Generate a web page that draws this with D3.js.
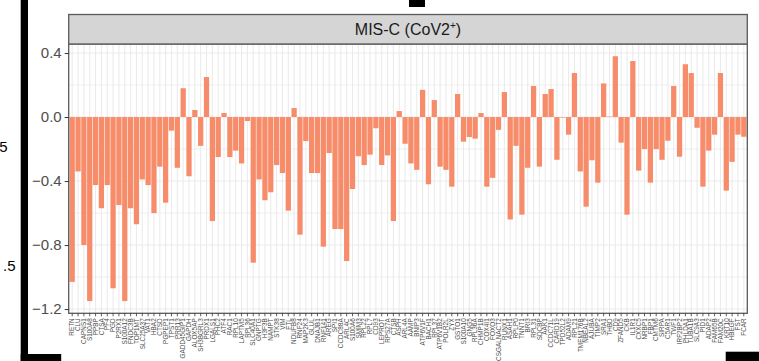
<!DOCTYPE html>
<html>
<head>
<meta charset="utf-8">
<script src="https://cdn.jsdelivr.net/npm/d3@7"></script>
<style>
  html, body { margin: 0; padding: 0; background: #fff; }
  svg { display: block; font-family: "Liberation Sans", Arial, Helvetica, sans-serif; }
</style>
</head>
<body>
<svg id="chart" width="759" height="361"></svg>
<script>
// Genes in plotted order
const genes = [
  "RETN","CLU","CAPNS1","S100A8","PPBP","CTSA","PF4","PGD","P2RX1","S100A12",
  "FNDC3B","TOP1MT","SLC25A37","VAT1","HBA2","CTSD","PGPEP1","TPST1","PRR13","GADD45GIP1",
  "GAPDH","ALOX5AP","SH3BGRL3","PRDX1","LGALS1","PHC2","ATF4","RAC1","RPL10","LAPTM5",
  "RPL36","SLC40A1","GNPTG","H3F3B","NAMPT","STK38","VIM","FTL","NDUFB8","RNF24",
  "MAP2K3","GLUL","DNAJB1","RNF141","AREG","SPI1","CCDC88A","ARL4C","S100A6","SMIM3",
  "RPL22","RPL7","CD93","LEPROT","RPS27A","CTSB","ASPH","ARL4A","AAMP","BNIP3",
  "ATP6V1F","BACH1","RPL37","ATP6V1B2","POLR2L","ZYX","GSTO1","S100A10","GNG5","RPL36A",
  "CHMP1B","COX4I1","FOXO3","CSGALNACT2","RUNX1","ASAH1","RPLP0","TNNT1","BRI3","RPL31",
  "SDCBP","AAK1","CCDC71L","CARD19","TPD52L2","ADAM9","RPL21","TMEM176B","NBEAL2","AJUBA",
  "TIMP2","SRA1","THBD","CD9","ZFAND5","CKB","IL1R1","CXXC5","NRBP1","FBP1",
  "CMTM6","SIRPA","C5AR1","TWF1","IRF2BP2","PHLDA1","TUBA1B","SLC9A3","PID1","ADAP2",
  "FAM65B","FAM20C","KRT10","HBEGF","FST","FCAR"
];

// Effect per gene, MIS-C (CoV2+)
const effect = [
  -1.03,-0.34,-0.80,-1.15,-0.425,-0.57,-0.425,-1.07,-0.55,-1.15,
  -0.57,-0.67,-0.39,-0.425,-0.60,-0.31,-0.535,-0.085,-0.317,0.18,
  -0.37,0.044,-0.18,0.25,-0.65,-0.25,0.025,-0.25,-0.21,-0.29,
  -0.025,-0.91,-0.39,-0.52,-0.47,-0.30,-0.35,-0.585,0.056,-0.735,
  -0.15,-0.35,-0.35,-0.81,-0.225,-0.70,-0.70,-0.90,-0.45,-0.245,
  -0.30,-0.235,-0.07,-0.30,-0.24,-0.65,0.0375,-0.167,-0.29,-0.33,
  0.17,-0.42,0.106,-0.31,-0.33,-0.435,0.144,-0.154,-0.125,-0.135,
  0.025,-0.435,-0.38,-0.08,0.156,-0.64,-0.18,-0.61,-0.317,0.194,
  -0.31,0.144,0.175,-0.267,-0.004,-0.11,0.275,-0.34,-0.56,-0.27,
  -0.41,0.21,0.003,0.38,-0.16,-0.61,0.35,-0.335,-0.20,-0.41,
  -0.20,-0.267,-0.148,0.194,-0.248,0.33,0.275,-0.067,-0.435,-0.21,
  -0.11,0.275,-0.46,-0.28,-0.11,-0.123
];

const yTicks = [-1.2, -0.8, -0.4, 0.0, 0.4];
const yMinor = [-1.0, -0.6, -0.2, 0.2];
const panelTitle = "MIS-C (CoV2";
// trailing parts of labels belonging to the neighbouring panel on the left
const edgeLabels = ["5", ".5"];

const svg = d3.select("#chart");
const W = 759, H = 361;
const panel = { left: 68.7, right: 747.3, top: 44, bottom: 313.3 };
const strip = { top: 14.5 };

svg.append("rect").attr("width", W).attr("height", H).attr("fill", "#fff");

// scales: continuous y expanded 5% beyond the data range, discrete x with band padding
const lo = d3.min(effect), hi = d3.max(effect);
const pad = (hi - lo) * 0.05;
const y = d3.scaleLinear().domain([lo - pad, hi + pad]).range([panel.bottom, panel.top]);
const x = d3.scaleBand().domain(genes).range([panel.left, panel.right])
  .paddingInner(0.1).paddingOuter(0.15);

const pw = panel.right - panel.left;
const grid = svg.append("g");
// minor horizontal grid
grid.selectAll("line.minor").data(yMinor).join("line")
  .attr("x1", panel.left).attr("x2", panel.right)
  .attr("y1", d => y(d)).attr("y2", d => y(d))
  .attr("stroke", "#ebebeb").attr("stroke-width", 0.8);
// major horizontal grid
grid.selectAll("line.major").data(yTicks).join("line")
  .attr("x1", panel.left).attr("x2", panel.right)
  .attr("y1", d => y(d)).attr("y2", d => y(d))
  .attr("stroke", "#ebebeb").attr("stroke-width", 1.1);
// vertical grid, one per gene
grid.selectAll("line.v").data(genes).join("line")
  .attr("x1", d => x(d) + x.bandwidth() / 2).attr("x2", d => x(d) + x.bandwidth() / 2)
  .attr("y1", panel.top).attr("y2", panel.bottom)
  .attr("stroke", "#ebebeb").attr("stroke-width", 1.1);

// bars
svg.append("g").selectAll("rect").data(genes).join("rect")
  .attr("x", d => x(d))
  .attr("width", x.bandwidth())
  .attr("y", (d, i) => y(Math.max(0, effect[i])))
  .attr("height", (d, i) => Math.abs(y(effect[i]) - y(0)))
  .attr("fill", "#F68C6A");

// panel border
svg.append("rect")
  .attr("x", panel.left).attr("y", panel.top)
  .attr("width", pw).attr("height", panel.bottom - panel.top)
  .attr("fill", "none").attr("stroke", "#5a5a5a").attr("stroke-width", 1.3);

// facet strip
svg.append("rect")
  .attr("x", panel.left).attr("y", strip.top)
  .attr("width", pw).attr("height", panel.top - strip.top)
  .attr("fill", "#d4d5d4").attr("stroke", "#5a5a5a").attr("stroke-width", 1.3);
const st = svg.append("text")
  .attr("x", (panel.left + panel.right) / 2)
  .attr("y", (strip.top + panel.top) / 2)
  .attr("dy", "0.36em")
  .attr("text-anchor", "middle")
  .attr("font-size", 16).attr("fill", "#1a1a1a");
st.append("tspan").text(panelTitle);
st.append("tspan").attr("font-size", 10).attr("dy", "-0.6em").text("+");
st.append("tspan").attr("dy", "0.38em").text(")");

// y axis
const fmt = d => (d < 0 ? "\u2212" : "") + Math.abs(d).toFixed(1);
const yAxis = svg.append("g")
  .attr("transform", `translate(${panel.left},0)`)
  .call(d3.axisLeft(y).tickValues(yTicks).tickFormat(fmt).tickSize(4).tickPadding(3));
yAxis.select(".domain").remove();
yAxis.selectAll(".tick line").attr("stroke", "#333").attr("stroke-width", 1);
yAxis.selectAll(".tick text")
  .attr("font-size", 15).attr("fill", "#4d4d4d")
  .attr("font-family", "'Liberation Sans', Arial, sans-serif");

// x axis
const xAxis = svg.append("g")
  .attr("transform", `translate(0,${panel.bottom})`)
  .call(d3.axisBottom(x).tickSize(3).tickPadding(2));
xAxis.select(".domain").remove();
xAxis.selectAll(".tick line").attr("stroke", "#333").attr("stroke-width", 0.8);
xAxis.selectAll(".tick text")
  .attr("font-size", 6.4).attr("fill", "#4d4d4d")
  .attr("font-family", "'Liberation Sans', Arial, sans-serif")
  .attr("text-anchor", "end")
  .attr("transform", "rotate(-90)")
  .attr("x", -5).attr("y", 0).attr("dy", "0.35em");

// neighbouring layout pieces at the edges
const edge = svg.append("g").attr("fill", "#000");
edge.append("rect").attr("x", 20.7).attr("y", 0).attr("width", 7.3).attr("height", H);
edge.append("rect").attr("x", 20.7).attr("y", 354).attr("width", 40.5).attr("height", 7);
edge.append("rect").attr("x", 409).attr("y", 0).attr("width", 16).attr("height", 7);
edge.append("rect").attr("x", 725.7).attr("y", 351.7).attr("width", 33.3).attr("height", 9.3);
edge.append("text").attr("x", 7.5).attr("y", 147).attr("dy", "0.35em")
  .attr("text-anchor", "end").attr("font-size", 15).text(edgeLabels[0]);
edge.append("text").attr("x", 15.5).attr("y", 266).attr("dy", "0.35em")
  .attr("text-anchor", "end").attr("font-size", 15).text(edgeLabels[1]);
</script>
</body>
</html>
